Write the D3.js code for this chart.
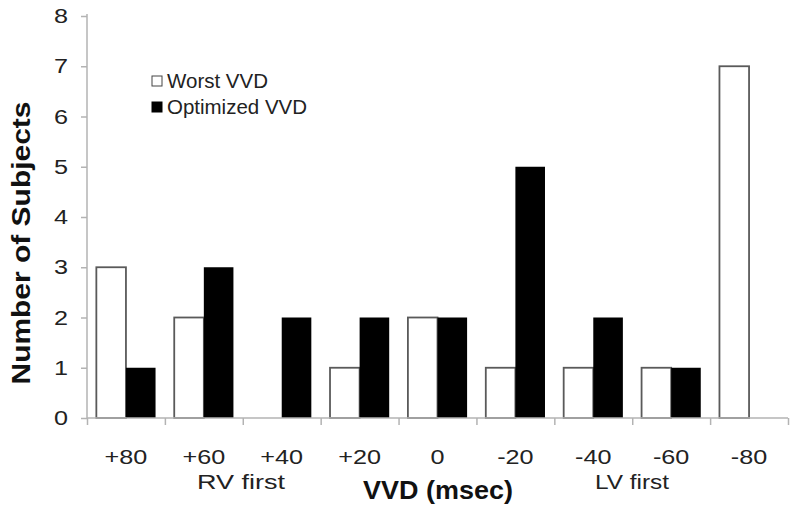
<!DOCTYPE html>
<html>
<head>
<meta charset="utf-8">
<script src="https://cdn.jsdelivr.net/npm/d3@7"></script>
<style>
  body { margin: 0; background: #fff; }
  text { font-family: "Liberation Sans", Arial, sans-serif; }
</style>
</head>
<body>
<script>
// data
const categories = ["+80", "+60", "+40", "+20", "0", "-20", "-40", "-60", "-80"];
const worstVVD = [3, 2, 0, 1, 2, 1, 1, 1, 7];
const optimizedVVD = [1, 3, 2, 2, 2, 5, 2, 1, 0];
const yTicks = [0, 1, 2, 3, 4, 5, 6, 7, 8];
const seriesNames = ["Worst VVD", "Optimized VVD"];

function init() {
    "use strict";

    const w = 800;
    const h = 516;
    const left = 87;
    const right = 788;
    const top = 16;
    const bottom = 418;
    const axisColor = "#b3b3b3";
    const stretch = 1.2; // the source text is a little wide

    const svg = d3.select("body")
    .append("svg")
        .attr("width", w)
        .attr("height", h);

    // scales
    const xScale = d3.scaleBand()
                    .domain(categories)
                    .range([left, right])
                    .paddingInner(0.24)
                    .paddingOuter(0.12);

    const subScale = d3.scaleBand()
                    .domain(seriesNames)
                    .range([0, xScale.bandwidth()]);

    const edgeScale = d3.scaleLinear()
                    .domain([0, categories.length])
                    .range([left, right]);

    const yScale = d3.scaleLinear()
                    .domain([0, 8])
                    .range([bottom, top]);

    const rows = categories.map((c, i) => ({cat: c, worst: worstVVD[i], opt: optimizedVVD[i]}));

    // bars
    svg.append("g")
        .selectAll("rect")
        .data(rows)
        .enter()
        .append("rect")
            .attr("x", d => xScale(d.cat) + subScale("Worst VVD"))
            .attr("y", d => yScale(d.worst))
            .attr("width", subScale.bandwidth())
            .attr("height", d => bottom - yScale(d.worst))
            .attr("fill", "#fff")
            .attr("stroke", d => d.worst > 0 ? "#5a5a5a" : "none")
            .attr("stroke-width", 1.8);

    svg.append("g")
        .selectAll("rect")
        .data(rows)
        .enter()
        .append("rect")
            .attr("x", d => xScale(d.cat) + subScale("Optimized VVD"))
            .attr("y", d => yScale(d.opt))
            .attr("width", subScale.bandwidth())
            .attr("height", d => bottom - yScale(d.opt))
            .attr("fill", "#000");

    // y axis
    const yAxis = svg.append("g")
        .attr("transform", "translate(" + left + ",0)")
        .call(d3.axisLeft(yScale).tickValues(yTicks).tickSize(6).tickPadding(13));
    yAxis.selectAll("line, path").attr("stroke", axisColor).attr("stroke-width", 1.5);
    yAxis.select("path").attr("d", "M0," + bottom + "V" + (top - 2));
    yAxis.selectAll("text")
        .attr("fill", "#222")
        .attr("x", -19 / stretch)
        .attr("transform", "scale(" + stretch + ",1)")
        .style("font-size", "21px");

    // x axis: ticks at category edges, labels at centres
    const xEdge = svg.append("g")
        .attr("transform", "translate(0," + bottom + ")")
        .call(d3.axisBottom(edgeScale).tickValues(d3.range(categories.length + 1)).tickSize(7).tickFormat(""));
    xEdge.selectAll("line, path").attr("stroke", axisColor).attr("stroke-width", 1.5);
    xEdge.select("path").attr("d", "M" + left + ",0H" + right);

    const xLabels = svg.append("g")
        .attr("transform", "translate(0," + bottom + ")")
        .call(d3.axisBottom(xScale).tickSize(0).tickPadding(31));
    xLabels.select("path").remove();
    xLabels.selectAll("text")
        .attr("fill", "#222")
        .attr("transform", "scale(" + stretch + ",1)")
        .style("font-size", "21px");

    // axis titles
    svg.append("text")
        .attr("x", 241)
        .attr("y", 489)
        .attr("text-anchor", "middle")
        .attr("fill", "#222")
        .attr("textLength", 88)
        .attr("lengthAdjust", "spacingAndGlyphs")
        .style("font-size", "21px")
        .text("RV first");

    svg.append("text")
        .attr("x", 632)
        .attr("y", 489)
        .attr("text-anchor", "middle")
        .attr("fill", "#222")
        .attr("textLength", 74)
        .attr("lengthAdjust", "spacingAndGlyphs")
        .style("font-size", "21px")
        .text("LV first");

    svg.append("text")
        .attr("x", 438)
        .attr("y", 499)
        .attr("text-anchor", "middle")
        .attr("fill", "#111")
        .attr("textLength", 150)
        .attr("lengthAdjust", "spacingAndGlyphs")
        .style("font-size", "25px")
        .style("font-weight", "bold")
        .text("VVD (msec)");

    svg.append("text")
        .attr("transform", "translate(30,243) rotate(-90)")
        .attr("text-anchor", "middle")
        .attr("fill", "#111")
        .attr("textLength", 283)
        .attr("lengthAdjust", "spacingAndGlyphs")
        .style("font-size", "25px")
        .style("font-weight", "bold")
        .text("Number of Subjects");

    // legend
    const legend = svg.append("g")
        .attr("transform", "translate(152,76)");
    seriesNames.forEach((name, i) => {
        const g = legend.append("g").attr("transform", "translate(0," + (i * 26) + ")");
        g.append("rect")
            .attr("width", 10)
            .attr("height", 10)
            .attr("fill", i === 0 ? "#fff" : "#000")
            .attr("stroke", i === 0 ? "#444" : "#000")
            .attr("stroke-width", 1);
        g.append("text")
            .attr("x", 15)
            .attr("y", 12)
            .attr("fill", "#222")
            .attr("textLength", i === 0 ? 101 : 140)
            .attr("lengthAdjust", "spacingAndGlyphs")
            .style("font-size", "20px")
            .text(name);
    });
}

window.onload = init;
</script>
</body>
</html>
